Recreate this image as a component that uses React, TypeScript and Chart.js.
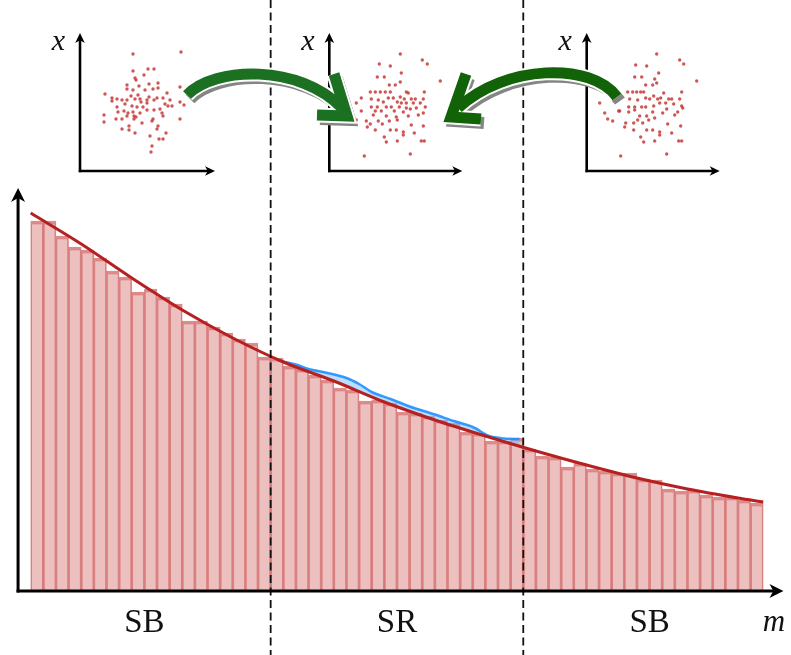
import React, { useEffect, useRef } from 'react';
import { Chart, registerables } from 'chart.js';

Chart.register(...registerables);

// ---------------- data ----------------
const BIN_COUNTS = [370, 370, 355, 344, 341, 333, 320, 314, 299, 302, 294, 287, 270, 270, 264, 258, 252, 248, 234,
  233, 225, 222, 216, 211, 203, 201, 190, 191, 188, 179, 178, 175, 171, 168, 159, 158, 150, 150, 153,
  142, 135, 134, 124, 128, 122, 120, 118, 118, 112, 111, 102, 100, 101, 96, 94, 94, 91, 88];

const BKG_FIT_M = [0, 4, 8, 12, 16, 20, 24, 28, 32, 36, 40, 44, 48, 52, 56, 58];
const BKG_FIT_V = [378, 347, 313, 281, 253, 229, 210, 189, 171, 155, 140, 126, 113, 102, 93, 89];

const SIG_M = [19.5, 21, 22, 23.5, 25, 26, 27, 28.5, 30, 32, 33.5, 35, 36.3, 37.5, 38.7];
const SIG_V = [231, 226.5, 222, 218, 213, 207, 199, 192, 184.5, 176.5, 170, 164, 155, 152.5, 152];

const REGION_EDGES = [19, 39];
const REGION_LABELS = ['SB', 'SR', 'SB'];
const REGION_CENTERS = [9, 29, 49];
const AXIS_LABEL_M = 'm';
const INSET_AXIS_LABEL = 'x';

const SCATTER_LEFT: [number, number][] = [
  [5.3, 11.7], [10.1, 11.9], [6.8, 10.2], [7.4, 10.2], [5.3, 10.0], [6.4, 9.6], [5.5, 9.3], [5.6, 9.1],
  [7.8, 8.8], [6.9, 8.7], [4.7, 8.6], [5.9, 8.5], [7.8, 8.3], [7.3, 8.2], [4.7, 8.2], [5.3, 8.1],
  [6.5, 8.1], [8.7, 7.8], [2.5, 7.7], [5.8, 7.6], [5.1, 7.5], [6.9, 7.4], [7.7, 7.3], [3.2, 7.3],
  [3.7, 7.2], [4.7, 7.1], [4.2, 7.1], [5.5, 7.2], [6.0, 7.2], [6.7, 7.1], [7.4, 7.1], [8.3, 7.3],
  [9.0, 7.1], [3.2, 7.0], [6.1, 6.9], [6.7, 6.8], [4.5, 6.7], [5.2, 6.5], [8.5, 6.7], [8.8, 6.5],
  [9.2, 6.5], [3.7, 6.4], [5.7, 6.4], [6.3, 6.4], [8.0, 6.2], [7.4, 6.1], [4.4, 6.0], [5.3, 5.9],
  [3.8, 5.9], [4.8, 5.8], [6.0, 5.8], [8.2, 5.8], [2.4, 5.6], [4.7, 5.5], [5.4, 5.5], [6.7, 6.1],
  [8.3, 5.5], [5.6, 5.4], [3.6, 5.2], [4.2, 5.2], [5.4, 5.2], [7.3, 5.2], [10.0, 5.2], [2.4, 4.9],
  [6.2, 4.8], [7.2, 5.0], [4.9, 4.5], [7.8, 4.5], [4.2, 4.2], [4.9, 4.1], [7.7, 4.2], [5.5, 3.8],
  [8.6, 3.8], [7.0, 3.5], [7.9, 3.2], [8.3, 3.2], [7.2, 2.5], [7.1, 1.9], [10.0, 6.9], [10.4, 6.6],
  [10.0, 8.4]
];

const SCATTER_MID: [number, number][] = [
  [7.1, 11.7], [9.3, 11.1], [9.8, 10.7], [5.0, 10.7], [6.1, 10.5], [7.2, 9.8], [4.8, 9.4], [5.5, 9.4],
  [11.1, 9.0], [7.1, 8.9], [6.0, 8.6], [6.6, 8.6], [7.7, 7.9], [9.5, 7.9], [4.1, 7.9], [4.6, 7.9],
  [5.1, 7.9], [5.6, 7.9], [6.1, 7.9], [7.1, 7.4], [7.9, 7.8], [3.2, 7.3], [5.9, 7.3], [6.4, 7.3],
  [7.5, 7.2], [8.2, 7.2], [8.6, 7.2], [9.4, 7.2], [4.2, 7.2], [4.9, 7.1], [5.4, 6.9], [6.8, 6.9],
  [7.2, 6.8], [7.7, 6.8], [8.4, 6.8], [9.1, 6.8], [2.7, 6.8], [4.2, 6.4], [4.8, 6.4], [5.7, 6.4],
  [6.2, 6.4], [7.0, 6.4], [7.7, 6.3], [8.1, 6.2], [8.7, 6.3], [9.6, 6.4], [3.2, 6.0], [4.6, 6.0],
  [5.2, 6.0], [6.5, 6.0], [7.4, 5.9], [8.9, 5.6], [9.4, 5.8], [4.4, 5.6], [5.7, 5.5], [6.7, 5.4],
  [7.9, 5.5], [2.7, 5.1], [3.7, 5.0], [4.9, 5.0], [6.0, 5.0], [6.8, 5.1], [4.1, 4.7], [5.3, 4.7],
  [8.2, 4.6], [9.4, 4.5], [3.8, 4.4], [6.1, 4.1], [6.7, 4.1], [7.4, 3.9], [8.5, 3.8], [4.6, 4.1],
  [7.4, 3.6], [5.5, 3.4], [5.7, 2.9], [6.8, 3.0], [9.2, 3.0], [9.5, 3.0], [3.5, 1.5], [8.1, 1.7]
];

const SCATTER_RIGHT: [number, number][] = [
  [7.0, 11.7], [9.3, 11.1], [9.7, 10.7], [4.9, 10.6], [6.0, 10.5], [7.2, 9.8], [4.8, 9.4], [5.5, 9.4],
  [6.8, 9.2], [11.0, 9.0], [5.9, 8.6], [6.6, 8.6], [7.0, 8.8], [4.1, 7.9], [4.6, 7.9], [5.0, 7.9],
  [5.4, 7.9], [5.7, 7.9], [6.7, 7.5], [7.7, 7.8], [9.5, 7.9], [1.3, 6.8], [4.3, 7.2], [5.1, 7.1],
  [5.9, 7.3], [6.3, 7.2], [7.1, 7.2], [7.4, 7.3], [8.2, 7.2], [8.5, 7.2], [9.3, 7.2], [3.3, 6.0],
  [4.2, 6.4], [4.8, 6.4], [5.5, 6.4], [5.9, 6.4], [6.7, 6.5], [7.3, 6.8], [8.0, 6.2], [7.9, 6.8],
  [8.7, 6.7], [9.5, 6.5], [9.6, 6.3], [1.8, 5.8], [2.1, 5.2], [2.6, 5.0], [3.2, 6.0], [4.2, 5.9],
  [4.8, 6.1], [5.3, 5.5], [6.0, 5.5], [6.6, 5.9], [6.8, 5.3], [7.6, 5.8], [8.8, 5.6], [9.1, 5.9],
  [3.9, 4.8], [4.7, 4.8], [5.1, 5.1], [5.6, 4.8], [6.2, 5.1], [8.1, 4.7], [9.4, 4.5], [3.8, 4.4],
  [6.0, 4.1], [6.6, 4.1], [7.3, 3.9], [8.5, 3.8], [4.7, 4.1], [7.3, 3.6], [5.4, 3.4], [5.7, 2.9],
  [6.8, 3.0], [9.2, 3.0], [9.5, 3.0], [3.4, 1.5], [8.0, 1.7]
];

const INSET_AXIS_LEN_X = [13.5, 13.3, 13.3];
const INSET_AXIS_LEN_Y = 13.8;

// ---------------- layout (pixels) ----------------
const W = 791;
const H = 655;
const PLOT_LEFT_PX = 30.7;
const BIN_PX = 12.63;
const BASE_PX = 591;
const INSET_ORIGINS: [number, number][] = [[80, 171], [329.3, 171], [586.7, 171]];
const INSET_UNIT_PX = 10;

function arrowLine(ctx: CanvasRenderingContext2D, x0: number, y0: number, x1: number, y1: number,
  lw: number, headLen: number, headHalf: number) {
  const ang = Math.atan2(y1 - y0, x1 - x0);
  const dx = Math.cos(ang), dy = Math.sin(ang);
  ctx.lineWidth = lw;
  ctx.strokeStyle = '#000';
  ctx.fillStyle = '#000';
  ctx.lineCap = 'butt';
  ctx.beginPath();
  ctx.moveTo(x0, y0);
  ctx.lineTo(x1 - dx * headLen * 0.6, y1 - dy * headLen * 0.6);
  ctx.stroke();
  const bx = x1 - dx * headLen, by = y1 - dy * headLen;
  const nx = x1 - dx * headLen * 0.72, ny = y1 - dy * headLen * 0.72;
  ctx.beginPath();
  ctx.moveTo(x1, y1);
  ctx.lineTo(bx - dy * headHalf, by + dx * headHalf);
  ctx.lineTo(nx, ny);
  ctx.lineTo(bx + dy * headHalf, by - dx * headHalf);
  ctx.closePath();
  ctx.fill();
}

function fancyArrow(ctx: CanvasRenderingContext2D, shaft: number[], head: number[], green: string) {
  const path = () => {
    ctx.beginPath();
    ctx.moveTo(shaft[0], shaft[1]);
    ctx.bezierCurveTo(shaft[2], shaft[3], shaft[4], shaft[5], shaft[6], shaft[7]);
    ctx.stroke();
    ctx.beginPath();
    ctx.moveTo(head[0], head[1]);
    ctx.lineTo(head[2], head[3]);
    ctx.lineTo(head[4], head[5]);
    ctx.stroke();
  };
  ctx.save();
  ctx.lineCap = 'butt';
  ctx.lineJoin = 'miter';
  ctx.save();
  ctx.translate(3, 4);
  ctx.strokeStyle = '#858585';
  ctx.lineWidth = 12;
  path();
  ctx.restore();
  ctx.strokeStyle = '#ffffff';
  ctx.lineWidth = 15;
  path();
  ctx.strokeStyle = green;
  ctx.lineWidth = 11;
  path();
  ctx.restore();
}

const decorPlugin = {
  id: 'decor',
  afterDatasetsDraw(chart: any) {
    const ctx: CanvasRenderingContext2D = chart.ctx;
    const xs = chart.scales.x;
    const ys = chart.scales.y;
    ctx.save();

    // region boundaries
    ctx.strokeStyle = '#111';
    ctx.lineWidth = 1.8;
    ctx.setLineDash([8, 4.5]);
    REGION_EDGES.forEach((e) => {
      const px = xs.getPixelForValue(e);
      ctx.beginPath();
      ctx.moveTo(px, 0);
      ctx.lineTo(px, chart.height);
      ctx.stroke();
    });
    ctx.setLineDash([]);

    // main axes
    const ax = xs.getPixelForValue(-1);
    const ay = ys.getPixelForValue(0);
    arrowLine(ctx, ax, ay + 1.5, ax, ys.getPixelForValue(403), 3, 14, 7);
    arrowLine(ctx, ax - 1.5, ay, xs.getPixelForValue(59.6), ay, 3, 14, 7);

    // region labels
    ctx.fillStyle = '#111';
    ctx.textAlign = 'center';
    ctx.textBaseline = 'alphabetic';
    ctx.font = '33px "Liberation Serif", "Times New Roman", serif';
    REGION_LABELS.forEach((t, i) => {
      ctx.fillText(t, xs.getPixelForValue(REGION_CENTERS[i]), 632);
    });
    ctx.font = 'italic 31px "Liberation Serif", "Times New Roman", serif';
    ctx.fillText(AXIS_LABEL_M, 774, 631);

    // inset axes
    INSET_ORIGINS.forEach((_, k) => {
      const sx = chart.scales['xs' + k];
      const sy = chart.scales['ys' + k];
      const ox = sx.getPixelForValue(0);
      const oy = sy.getPixelForValue(0);
      arrowLine(ctx, ox, oy + 1.2, ox, sy.getPixelForValue(INSET_AXIS_LEN_Y), 2.6, 10, 4.8);
      arrowLine(ctx, ox - 1.2, oy, sx.getPixelForValue(INSET_AXIS_LEN_X[k]), oy, 2.6, 10, 4.8);
      ctx.fillStyle = '#111';
      ctx.font = 'italic 30px "Liberation Serif", "Times New Roman", serif';
      ctx.textAlign = 'center';
      ctx.fillText(INSET_AXIS_LABEL, ox - 21.5, 50);
    });

    // green arrows (decoration)
    fancyArrow(ctx, [187, 95, 215, 66, 300, 64, 342, 108], [334, 74, 347, 116, 317, 115], 'rgb(28,112,34)');
    fancyArrow(ctx, [617, 97, 592, 62, 505, 64, 458, 108], [466, 74, 451, 117, 481, 119], 'rgb(18,98,8)');

    ctx.restore();
  }
};

export default function App() {
  const canvasRef = useRef<HTMLCanvasElement | null>(null);

  useEffect(() => {
    document.body.style.margin = '0';
    const canvas = canvasRef.current;
    if (!canvas) return;

    const xMin = -PLOT_LEFT_PX / BIN_PX;
    const xMax = xMin + W / BIN_PX;
    const yMin = BASE_PX - H;
    const yMax = BASE_PX;

    const hiddenX = { type: 'linear', axis: 'x', position: 'bottom', display: false, offset: false,
      grid: { offset: false }, ticks: { includeBounds: false, stepSize: 10 } };
    const hiddenY = { type: 'linear', axis: 'y', position: 'left', display: false, beginAtZero: false,
      ticks: { includeBounds: false } };

    const scales: any = {
      x: { ...hiddenX, min: xMin, max: xMax },
      y: { ...hiddenY, min: yMin, max: yMax }
    };
    INSET_ORIGINS.forEach(([ox, oy], k) => {
      const xmn = -ox / INSET_UNIT_PX;
      const ymn = -(H - oy) / INSET_UNIT_PX;
      scales['xs' + k] = { ...hiddenX, min: xmn, max: xmn + W / INSET_UNIT_PX };
      scales['ys' + k] = { ...hiddenY, min: ymn, max: ymn + H / INSET_UNIT_PX };
    });

    const scatterSets = [SCATTER_LEFT, SCATTER_MID, SCATTER_RIGHT].map((pts, k) => ({
      type: 'scatter' as const,
      data: pts.map(([px, py]) => ({ x: px, y: py })),
      xAxisID: 'xs' + k,
      yAxisID: 'ys' + k,
      pointRadius: 1.7,
      pointBorderWidth: 0,
      pointBackgroundColor: 'rgba(200,55,55,0.85)',
      showLine: false,
      order: 0
    }));

    const chart = new Chart(canvas, {
      type: 'bar',
      data: {
        datasets: [
          {
            type: 'bar',
            data: BIN_COUNTS.map((v, i) => ({ x: i + 0.5, y: v })),
            xAxisID: 'x',
            yAxisID: 'y',
            backgroundColor: 'rgba(205,85,85,0.37)',
            borderColor: 'rgba(200,70,70,0.62)',
            borderWidth: { top: 3, left: 1, right: 1, bottom: 0 },
            borderSkipped: false,
            barThickness: BIN_PX,
            grouped: false,
            order: 3
          } as any,
          {
            type: 'line',
            data: BKG_FIT_M.map((m, i) => ({ x: m, y: BKG_FIT_V[i] })),
            xAxisID: 'x',
            yAxisID: 'y',
            borderColor: 'rgb(182,32,32)',
            borderWidth: 3,
            pointRadius: 0,
            cubicInterpolationMode: 'monotone',
            fill: false,
            order: 1
          } as any,
          {
            type: 'line',
            data: SIG_M.map((m, i) => ({ x: m, y: SIG_V[i] })),
            xAxisID: 'x',
            yAxisID: 'y',
            borderColor: 'rgba(30,144,255,0.9)',
            borderWidth: 2.5,
            pointRadius: 0,
            tension: 0.3,
            fill: { target: 1, above: 'rgba(120,190,255,0.5)', below: 'rgba(0,0,0,0)' },
            order: 2
          } as any,
          ...scatterSets
        ]
      },
      options: {
        animation: false,
        responsive: true,
        maintainAspectRatio: false,
        devicePixelRatio: 1,
        events: [],
        layout: { padding: 0, autoPadding: false },
        plugins: {
          legend: { display: false },
          tooltip: { enabled: false },
          title: { display: false }
        },
        scales
      } as any,
      plugins: [decorPlugin]
    });

    return () => chart.destroy();
  }, []);

  return (
    <div style={{ position: 'fixed', left: 0, top: 0, width: W, height: H, background: '#fff' }}>
      <canvas ref={canvasRef} />
    </div>
  );
}
